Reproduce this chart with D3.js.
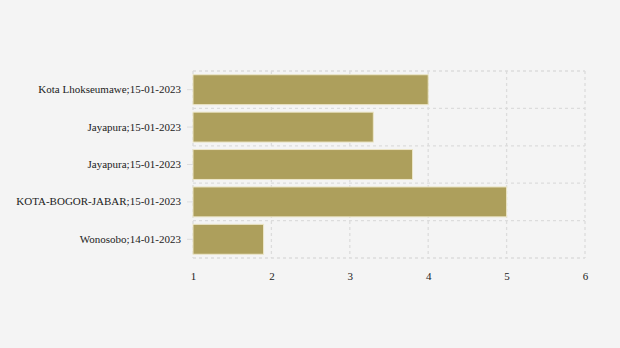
<!DOCTYPE html>
<html>
<head>
<meta charset="utf-8">
<script src="https://cdn.jsdelivr.net/npm/d3@7"></script>
<style>
  body { margin: 0; background: #f4f4f4; }
</style>
</head>
<body>
<script>
// data
var categories = [
  "Kota Lhokseumawe;15-01-2023",
  "Jayapura;15-01-2023",
  "Jayapura;15-01-2023 ",
  "KOTA-BOGOR-JABAR;15-01-2023",
  "Wonosobo;14-01-2023"
];
var values = [4.0, 3.3, 3.8, 5.0, 1.9];
var xTicks = [1, 2, 3, 4, 5, 6];

function main() {
  var svg = d3.select("body")
              .append("svg")
              .attr("width", 620)
              .attr("height", 348)
              .style("background", "#f4f4f4");

  var margin = {top: 71, right: 35, bottom: 90, left: 193};
  var width = 620 - margin.left - margin.right;
  var height = 348 - margin.top - margin.bottom;

  var g = svg.append("g")
             .attr("transform", "translate(" + margin.left + "," + margin.top + ")");

  var xScale = d3.scaleLinear().domain([1, 6]).range([0, width]);
  var yScale = d3.scaleBand()
                 .domain(categories)
                 .range([0, height])
                 .paddingInner(0.2)
                 .paddingOuter(0.1);

  var gridColor = "#dcdcdc";

  // vertical grid
  g.selectAll(".vgrid")
   .data(xTicks)
   .join("line")
   .attr("x1", d => xScale(d)).attr("x2", d => xScale(d))
   .attr("y1", 0).attr("y2", height)
   .attr("stroke", gridColor)
   .attr("stroke-width", 1.3)
   .attr("stroke-dasharray", "3,3");

  // horizontal grid at band edges
  var step = yScale.step();
  var edges = d3.range(categories.length + 1).map(i => i * step);
  g.selectAll(".hgrid")
   .data(edges)
   .join("line")
   .attr("x1", 0).attr("x2", width)
   .attr("y1", d => d).attr("y2", d => d)
   .attr("stroke", gridColor)
   .attr("stroke-width", 1.3)
   .attr("stroke-dasharray", "3,3");

  // bars
  g.selectAll("rect")
   .data(values)
   .join("rect")
   .attr("x", xScale(1))
   .attr("y", (d, i) => yScale(categories[i]))
   .attr("width", d => xScale(d) - xScale(1))
   .attr("height", yScale.bandwidth())
   .attr("fill", "#ad9f5c")
   .attr("stroke", "#ece6c8")
   .attr("stroke-width", 1);

  // y axis
  var yAxis = g.append("g")
               .call(d3.axisLeft(yScale).tickSize(6).tickPadding(6).tickFormat(d => d.trim()));
  yAxis.select(".domain").remove();
  yAxis.selectAll("line").attr("stroke", "#dddddd");
  yAxis.selectAll("text")
       .style("font-family", "'Liberation Serif', serif")
       .style("font-size", "11px")
       .attr("fill", "#222");

  // x axis
  var xAxis = g.append("g")
               .attr("transform", "translate(0," + height + ")")
               .call(d3.axisBottom(xScale).tickValues(xTicks).tickSize(0).tickPadding(14).tickFormat(d3.format("d")));
  xAxis.select(".domain").remove();
  xAxis.selectAll("text")
       .style("font-family", "'Liberation Serif', serif")
       .style("font-size", "11px")
       .attr("fill", "#222");
}
main();
</script>
</body>
</html>
